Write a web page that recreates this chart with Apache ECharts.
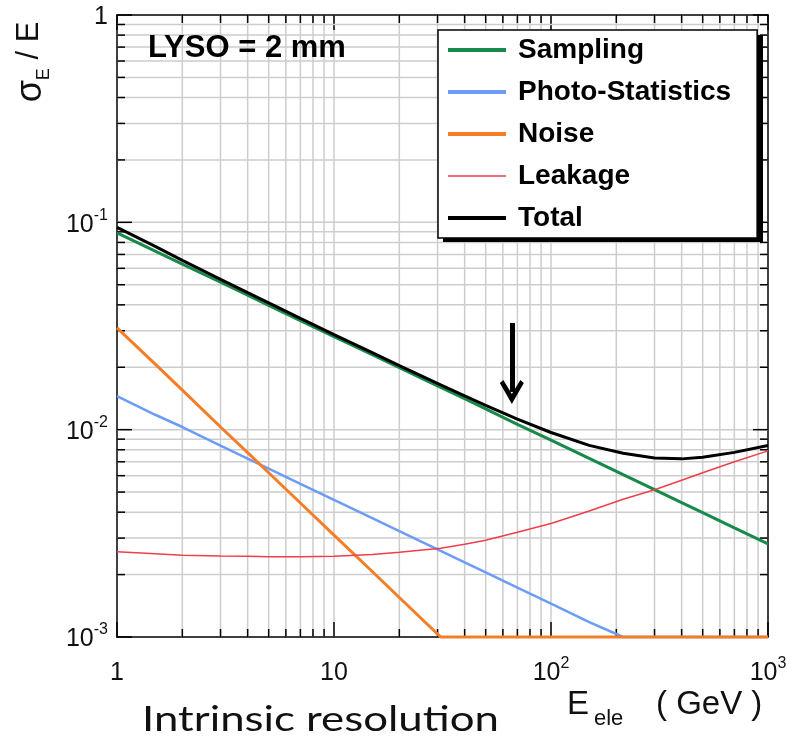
<!DOCTYPE html>
<html><head><meta charset="utf-8">
<script src="https://cdn.jsdelivr.net/npm/echarts@6/dist/echarts.min.js"></script>
<style>html,body{margin:0;padding:0;background:#fff}#c{width:802px;height:755px}</style>
</head><body><div id="c"></div>
<script>
// ---- data ----
const energies  = [1, 1.5, 2, 3, 4, 5, 7, 10, 15, 20, 31, 40, 50, 70, 100, 150, 215, 300, 400, 500, 700, 1000];
const sampling  = [0.0890, 0.0727, 0.0629, 0.0514, 0.0445, 0.0398, 0.0336, 0.0281, 0.0230, 0.0199, 0.0160, 0.0141, 0.0126, 0.0106, 0.0089, 0.00727, 0.00607, 0.00514, 0.00445, 0.00398, 0.00336, 0.00281];
const photoStat = [0.0145, 0.0118, 0.0103, 0.00837, 0.00725, 0.00648, 0.00548, 0.00459, 0.00374, 0.00324, 0.0026, 0.00229, 0.00205, 0.00173, 0.00145, 0.00118, 0.0010, 0.0010, 0.0010, 0.0010, 0.0010, 0.0010];
const noise     = [0.031, 0.0207, 0.0155, 0.0103, 0.00775, 0.0062, 0.00443, 0.0031, 0.00207, 0.00155, 0.0010, 0.0010, 0.0010, 0.0010, 0.0010, 0.0010, 0.0010, 0.0010, 0.0010, 0.0010, 0.0010, 0.0010];
const leakage   = [0.00258, 0.00252, 0.00248, 0.00246, 0.00245, 0.00244, 0.00244, 0.00245, 0.00250, 0.00256, 0.00268, 0.00280, 0.00293, 0.00320, 0.00353, 0.00405, 0.00462, 0.00513, 0.00570, 0.00620, 0.00700, 0.00790];
const total     = [0.0945, 0.0765, 0.0656, 0.0531, 0.0458, 0.0409, 0.0344, 0.02875, 0.02353, 0.02038, 0.01646, 0.01455, 0.0131, 0.01125, 0.00969, 0.0084, 0.00769, 0.0073, 0.00723, 0.00736, 0.00777, 0.00838];
const seriesNames = ['Sampling', 'Photo-Statistics', 'Noise', 'Leakage', 'Total'];
const xMajor = [1, 10, 100, 1000];
const xMinor = [2,3,4,5,6,7,8,9,20,30,40,50,60,70,80,90,200,300,400,500,600,700,800,900];
const yMajor = [0.001, 0.01, 0.1, 1];
const yMinor = [0.002,0.003,0.004,0.005,0.006,0.007,0.008,0.009,0.02,0.03,0.04,0.05,0.06,0.07,0.08,0.09,0.2,0.3,0.4,0.5,0.6,0.7,0.8,0.9];
const arrowAt = {x: 66, yFrom: 0.0327, yTo: 0.0152};

// ---- chart ----
const X_MIN = 1, X_MAX = 1000, Y_MIN = 0.001, Y_MAX = 1;
const FONT = "'Liberation Sans', Arial, sans-serif";
const colors = ['#17894a', '#6c9cf6', '#f47e28', '#ef3e4c', '#000000'];
const widths = [3, 2.5, 3, 1.5, 3];
const values = [sampling, photoStat, noise, leakage, total];
const pair = ys => energies.map((e, i) => [e, ys[i]]);

const frameData = [];
xMajor.forEach(v => frameData.push([v, 0.03, 0, 1]));
xMinor.forEach(v => frameData.push([v, 0.03, 0, 0]));
yMajor.forEach(v => frameData.push([10, v, 1, 1]));
yMinor.forEach(v => frameData.push([10, v, 1, 0]));

function renderFrame(params, api) {
  const kind = api.value(2), major = api.value(3);
  const len = major ? 15 : 8;
  const grid = {stroke: '#cdcdcd', lineWidth: 1.5};
  const tick = {stroke: '#000', lineWidth: 1.5};
  const ch = [];
  if (kind === 0) {
    const v = api.value(0);
    const a = api.coord([v, Y_MIN]), b = api.coord([v, Y_MAX]);
    if (v !== X_MIN && v !== X_MAX) ch.push({type: 'line', shape: {x1: a[0], y1: a[1], x2: b[0], y2: b[1]}, style: grid});
    ch.push({type: 'line', shape: {x1: a[0], y1: a[1], x2: a[0], y2: a[1] - len}, style: tick});
    ch.push({type: 'line', shape: {x1: b[0], y1: b[1], x2: b[0], y2: b[1] + len}, style: tick});
  } else {
    const v = api.value(1);
    const a = api.coord([X_MIN, v]), b = api.coord([X_MAX, v]);
    if (v !== Y_MIN && v !== Y_MAX) ch.push({type: 'line', shape: {x1: a[0], y1: a[1], x2: b[0], y2: b[1]}, style: grid});
    ch.push({type: 'line', shape: {x1: a[0], y1: a[1], x2: a[0] + len, y2: a[1]}, style: tick});
    ch.push({type: 'line', shape: {x1: b[0], y1: b[1], x2: b[0] - len, y2: b[1]}, style: tick});
  }
  return {type: 'group', children: ch};
}

function expLabel(v) {
  const e = Math.round(Math.log10(v));
  if (e === 0) return '{b|1}';
  if (e === 1) return '{b|10}';
  return '{b|10}{s|' + e + '}';
}
const labelRich = {
  b: {fontSize: 25, lineHeight: 30, verticalAlign: 'bottom', fontFamily: FONT, color: '#111'},
  s: {fontSize: 16, lineHeight: 16, verticalAlign: 'top', fontFamily: FONT, color: '#111'}
};
const axisLine = {show: true, lineStyle: {color: '#000', width: 1.5}};

const thick = 'path://M0,0H58V4H0Z M65,0L65,4Z';
const thin = 'path://M0,1.25H58V2.75H0Z M65,0L65,4Z';

const series = seriesNames.map((n, i) => ({
  name: n, type: 'line', data: pair(values[i]), showSymbol: false, symbol: 'none',
  clip: false, z: 3 + i, silent: true,
  lineStyle: {color: colors[i], width: widths[i]},
  itemStyle: {color: colors[i]}
}));
series[4].markLine = {
  silent: true, symbol: ['none', 'path://M12,0 L24,20 L20.5,23 L12,9.5 L3.5,23 L0,20 Z'], symbolSize: [24, 24],
  label: {show: false}, lineStyle: {color: '#000', width: 5, type: 'solid'},
  data: [[{coord: [arrowAt.x, arrowAt.yFrom]}, {coord: [arrowAt.x, arrowAt.yTo]}]]
};
series.unshift({
  type: 'custom', name: 'frame', data: frameData, renderItem: renderFrame,
  encode: {x: 0, y: 1}, z: 1, silent: true, clip: false
});

const option = {
  backgroundColor: '#fff',
  animation: false,
  grid: {left: 117, right: 34, top: 15, bottom: 118, containLabel: false},
  xAxis: [
    {type: 'log', logBase: 10, min: X_MIN, max: X_MAX, position: 'bottom', axisLine,
     axisTick: {show: false}, splitLine: {show: false},
     axisLabel: {formatter: expLabel, rich: labelRich, margin: 19, showMinLabel: true, showMaxLabel: true}},
    {type: 'log', logBase: 10, min: X_MIN, max: X_MAX, position: 'top', axisLine,
     axisTick: {show: false}, splitLine: {show: false}, axisLabel: {show: false}}
  ],
  yAxis: [
    {type: 'log', logBase: 10, min: Y_MIN, max: Y_MAX, position: 'left', axisLine,
     axisTick: {show: false}, splitLine: {show: false},
     axisLabel: {formatter: expLabel, rich: labelRich, margin: 9, showMinLabel: true, showMaxLabel: true}},
    {type: 'log', logBase: 10, min: Y_MIN, max: Y_MAX, position: 'right', axisLine,
     axisTick: {show: false}, splitLine: {show: false}, axisLabel: {show: false}}
  ],
  legend: {
    left: 438, top: 30, orient: 'vertical', selectedMode: false, z: 20,
    data: seriesNames.map(n => ({name: n, icon: n === 'Leakage' ? thin : thick})),
    itemWidth: 65, itemHeight: 4, itemGap: 14,
    padding: [6, 26, 6, 10],
    backgroundColor: '#fff', borderColor: '#000', borderWidth: 1.5,
    textStyle: {fontSize: 28, fontWeight: 'bold', fontFamily: FONT, color: '#000', lineHeight: 28}
  },
  graphic: [
    {type: 'rect', shape: {x: 443, y: 35, width: 320, height: 207}, style: {fill: '#000'}, z: 19, silent: true},
    {type: 'text', left: 148, top: 33, z: 10,
     style: {text: 'LYSO = 2 mm', font: "bold 31px 'Liberation Sans', Arial, sans-serif", fill: '#000'}},
    {type: 'text', x: 44, y: 62, rotation: Math.PI / 2, z: 10,
     style: {text: '{s|σ}{e|E}{a| / E}', align: 'center', verticalAlign: 'middle',
       rich: {s: {fontSize: 36, lineHeight: 36, verticalAlign: 'top', fontFamily: FONT, fill: '#111'},
              a: {fontSize: 31, lineHeight: 36, verticalAlign: 'top', fontFamily: FONT, fill: '#111'},
              e: {fontSize: 18, lineHeight: 61, fontFamily: FONT, fill: '#111'}}}},
    {type: 'text', x: 567, y: 705, z: 10,
     style: {text: 'E', font: "33px 'Liberation Sans', Arial, sans-serif", fill: '#111', verticalAlign: 'middle'}},
    {type: 'text', x: 594, y: 719, z: 10,
     style: {text: 'ele', font: "22px 'Liberation Sans', Arial, sans-serif", fill: '#111', verticalAlign: 'middle'}},
    {type: 'text', x: 656, y: 705, z: 10,
     style: {text: '( GeV )', font: "33px 'Liberation Sans', Arial, sans-serif", fill: '#111', verticalAlign: 'middle'}},
    {type: 'text', x: 142, y: 720, scaleX: 1.25, z: 10,
     style: {text: 'Intrinsic resolution', font: "35px Lato, sans-serif", fill: '#111', verticalAlign: 'middle'}}
  ],
  series
};
const chart = echarts.init(document.getElementById('c'));
chart.setOption(option);
</script>
</body></html>
